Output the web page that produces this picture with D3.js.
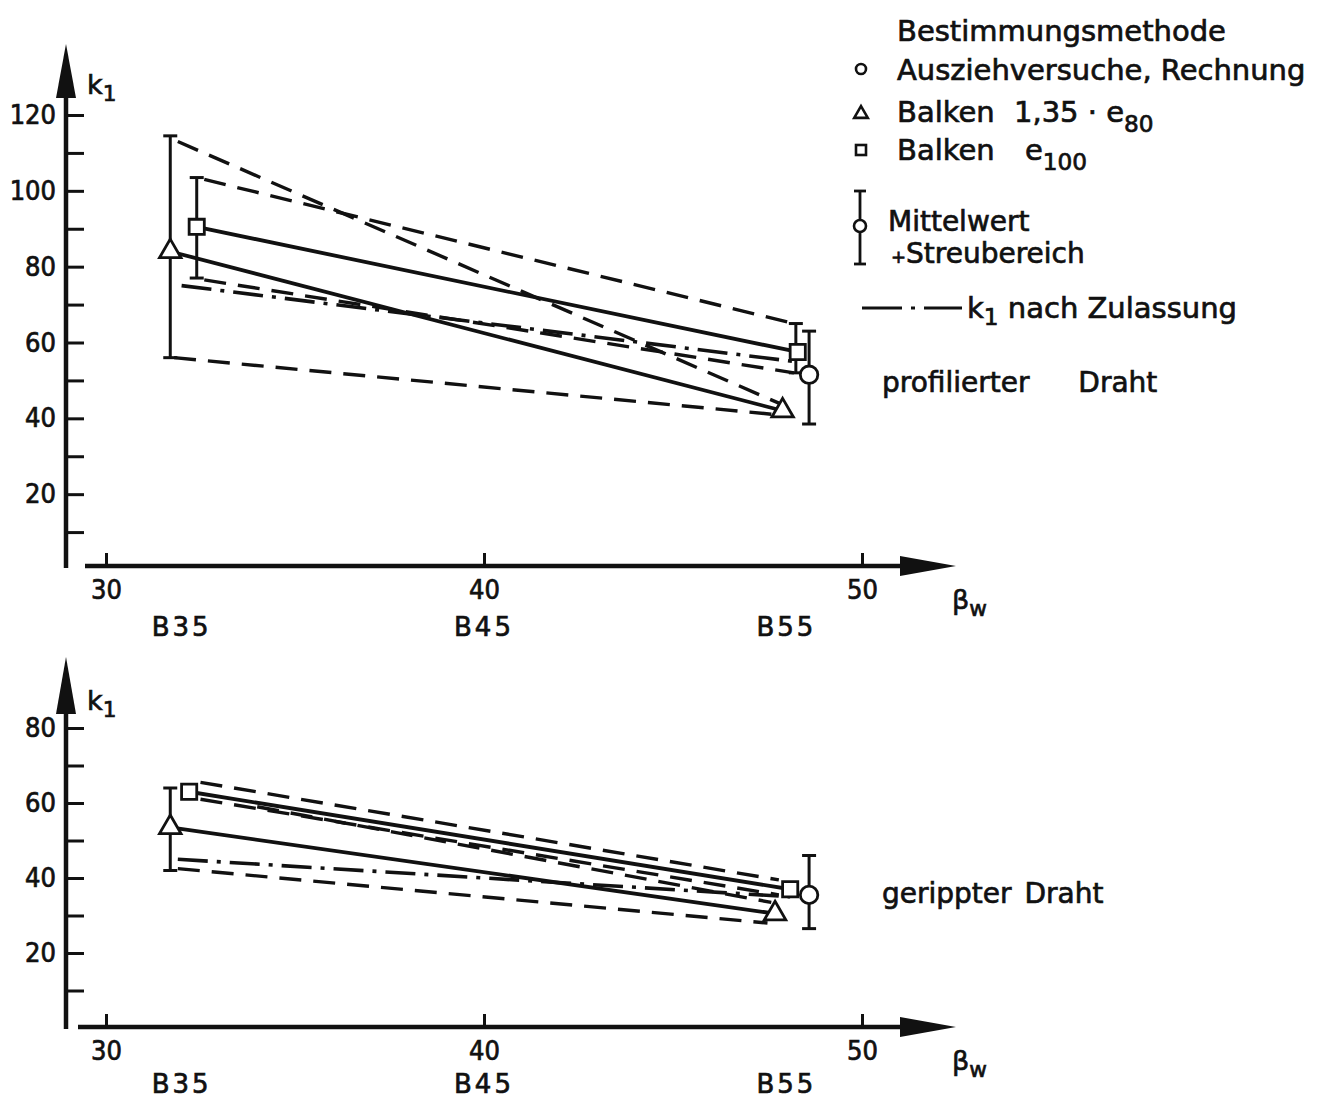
<!DOCTYPE html>
<html>
<head>
<meta charset="utf-8">
<script src="https://cdn.jsdelivr.net/npm/d3@7"></script>
<style>
  html, body { margin: 0; padding: 0; background: #fff; }
  text { font-family: "DejaVu Sans", sans-serif; fill: #111; stroke: #111; stroke-width: 0.7px; }
  .cond { font-family: "DejaVu Sans Condensed", "DejaVu Sans", sans-serif; }
</style>
</head>
<body>
<script>
// ---- values: k1 against concrete strength beta_W -------------------------

// strength grades shown under the beta_W axis
const gradeLabels = ["B35", "B45", "B55"];
const gradeBw = [32, 40, 48];
const xTicks = [30, 40, 50];

// profilierter Draht
const profTriangle = [[31.7, 84], [47.9, 42]];          // Balken 1,35·e80
const profSquare = [[32.4, 90.5], [48.3, 57.5]];        // Balken e100
const profCircle = [[48.6, 51.5]];                      // Ausziehversuche, Rechnung
const profRanges = [[31.7, 56, 114.5], [32.4, 77, 103.5], [48.25, 52, 65], [48.6, 38.5, 63]];
const profDashed = [
  [[31.9, 113], [47.8, 44]],
  [[32.6, 103], [48.2, 65]],
  [[31.8, 56], [47.7, 41]],
  [[32.6, 76.5], [48.2, 52]]
];
const profZulassung = [[32.0, 75], [48.2, 55]];

// gerippter Draht
const ripTriangle = [[31.7, 53.5], [47.7, 30.5]];
const ripSquare = [[32.2, 63], [48.1, 37]];
const ripCircle = [[48.6, 35.5]];
const ripRanges = [[31.7, 42, 64], [48.6, 26.5, 46]];
const ripDashed = [
  [[32.5, 65.5], [47.8, 39.5]],
  [[32.5, 61], [47.8, 35.5]],
  [[34.0, 59], [47.6, 33.5]],
  [[31.9, 42.5], [47.5, 28]]
];
const ripZulassung = [[31.9, 45], [48.1, 35]];

// ---- drawing ---------------------------------------------------------------
const W = 1325, H = 1098;
const svg = d3.select("body").append("svg")
  .attr("width", W).attr("height", H)
  .style("display", "block");
svg.append("rect").attr("width", W).attr("height", H).attr("fill", "#fff");

const INK = "#111";
const DASH = "22 12";
const DASHDOT = "30 9 4 9";

function subText(g, x, y, parts, size) {
  const t = g.append("text").attr("x", x).attr("y", y).style("font-size", size + "px");
  parts.forEach(p => {
    const s = t.append("tspan").text(p.t);
    if (p.sub) s.attr("dy", p.dy || 8).style("font-size", (size * 0.8) + "px");
    else if (p.back) s.attr("dy", -p.back);
  });
  return t;
}

function panel(opt) {
  const g = svg.append("g");
  const x = d3.scaleLinear().domain([30, 50]).range([106, 862]);
  const y = d3.scaleLinear().domain([0, opt.yMax]).range([opt.y0, opt.yTop]);
  const axisX = 66;

  // vertical axis with arrow
  g.append("line").attr("x1", axisX).attr("x2", axisX)
    .attr("y1", opt.xAxisY + 2).attr("y2", opt.arrowBase)
    .attr("stroke", INK).attr("stroke-width", 4.5);
  g.append("path")
    .attr("d", `M${axisX - 10},${opt.arrowBase + 2} L${axisX},${opt.arrowTip} L${axisX + 10},${opt.arrowBase + 2} Z`)
    .attr("fill", INK);

  const yAxis = d3.axisLeft(y)
    .tickValues(d3.range(10, opt.yMax + 1, 10))
    .tickSizeInner(-18).tickSizeOuter(0).tickPadding(10)
    .tickFormat(d => d % 20 === 0 ? d : "");
  const ya = g.append("g").attr("transform", `translate(${axisX},0)`).call(yAxis);
  ya.select(".domain").remove();
  ya.selectAll(".tick line").attr("stroke", INK).attr("stroke-width", 3);
  ya.selectAll(".tick text").attr("fill", INK).attr("class", "cond")
    .style("font-size", "27px");

  subText(g, 87, opt.arrowBase - 2, [{t: "k"}, {t: "1", sub: true, dy: 7}], 27);

  // horizontal axis with arrow
  g.append("line").attr("x1", opt.xAxisStart).attr("x2", 902)
    .attr("y1", opt.xAxisY).attr("y2", opt.xAxisY)
    .attr("stroke", INK).attr("stroke-width", 4.5);
  g.append("path")
    .attr("d", `M900,${opt.xAxisY - 10} L956,${opt.xAxisY} L900,${opt.xAxisY + 10} Z`)
    .attr("fill", INK);

  const xAxis = d3.axisBottom(x).tickValues(xTicks)
    .tickSizeInner(-13).tickSizeOuter(0).tickPadding(14).tickFormat(d3.format("d"));
  const xa = g.append("g").attr("transform", `translate(0,${opt.xAxisY})`).call(xAxis);
  xa.select(".domain").remove();
  xa.selectAll(".tick line").attr("stroke", INK).attr("stroke-width", 3);
  xa.selectAll(".tick text").attr("fill", INK).attr("class", "cond")
    .style("font-size", "27px");

  subText(g, 952, opt.xAxisY + 43, [{t: "β"}, {t: "w", sub: true, dy: 7}], 27);

  g.selectAll(".grade").data(gradeLabels).join("text")
    .attr("class", "grade")
    .attr("x", (d, i) => x(gradeBw[i]))
    .attr("y", opt.gradeY)
    .attr("text-anchor", "middle")
    .style("font-size", "26px").style("letter-spacing", "3px")
    .text(d => d);

  const line = d3.line().x(d => x(d[0])).y(d => y(d[1]));

  // dashed scatter bounds
  g.selectAll(".dashed").data(opt.dashed).join("path")
    .attr("class", "dashed").attr("d", line)
    .attr("fill", "none").attr("stroke", INK).attr("stroke-width", 3.4)
    .attr("stroke-dasharray", DASH);

  // k1 nach Zulassung
  g.append("path").datum(opt.zul).attr("d", line)
    .attr("fill", "none").attr("stroke", INK).attr("stroke-width", 3.6)
    .attr("stroke-dasharray", DASHDOT);

  // mean lines
  [opt.tri, opt.sq].forEach(s => {
    g.append("path").datum(s).attr("d", line)
      .attr("fill", "none").attr("stroke", INK).attr("stroke-width", 3.8);
  });

  // scatter ranges
  const eb = g.selectAll(".range").data(opt.ranges).join("g").attr("class", "range");
  eb.append("line")
    .attr("x1", d => x(d[0])).attr("x2", d => x(d[0]))
    .attr("y1", d => y(d[1])).attr("y2", d => y(d[2]))
    .attr("stroke", INK).attr("stroke-width", 3);
  eb.append("line")
    .attr("x1", d => x(d[0]) - 7).attr("x2", d => x(d[0]) + 7)
    .attr("y1", d => y(d[2])).attr("y2", d => y(d[2]))
    .attr("stroke", INK).attr("stroke-width", 3);
  eb.append("line")
    .attr("x1", d => x(d[0]) - 7).attr("x2", d => x(d[0]) + 7)
    .attr("y1", d => y(d[1])).attr("y2", d => y(d[1]))
    .attr("stroke", INK).attr("stroke-width", 3);

  // markers
  const mark = (data, type, size) => g.selectAll(null).data(data).join("path")
    .attr("transform", d => `translate(${x(d[0])},${y(d[1])})`)
    .attr("d", d3.symbol().type(type).size(size))
    .attr("fill", "#fff").attr("stroke", INK).attr("stroke-width", 2.8);
  mark(opt.tri, d3.symbolTriangle, 200);
  mark(opt.sq, d3.symbolSquare, 230);
  mark(opt.circ, d3.symbolCircle, 240);

  g.append("text").attr("x", 882).attr("y", opt.nameY)
    .style("font-size", "28px").style("word-spacing", opt.nameGap + "px")
    .text(opt.name);
}

panel({
  yMax: 120, y0: 570, yTop: 115, xAxisY: 566, xAxisStart: 85,
  arrowTip: 44, arrowBase: 96, gradeY: 636,
  tri: profTriangle, sq: profSquare, circ: profCircle,
  ranges: profRanges, dashed: profDashed, zul: profZulassung,
  name: "profilierter Draht", nameY: 392, nameGap: 40
});

panel({
  yMax: 80, y0: 1028, yTop: 728, xAxisY: 1027, xAxisStart: 78,
  arrowTip: 657, arrowBase: 712, gradeY: 1093,
  tri: ripTriangle, sq: ripSquare, circ: ripCircle,
  ranges: ripRanges, dashed: ripDashed, zul: ripZulassung,
  name: "gerippter Draht", nameY: 903, nameGap: 4
});

// ---- legend ----------------------------------------------------------------
const lg = svg.append("g");
const LS = 29;
lg.append("text").attr("x", 897).attr("y", 41).style("font-size", LS + "px").text("Bestimmungsmethode");

lg.append("circle").attr("cx", 861).attr("cy", 69).attr("r", 5)
  .attr("fill", "#fff").attr("stroke", INK).attr("stroke-width", 2.6);
lg.append("text").attr("x", 897).attr("y", 80).style("font-size", LS + "px").text("Ausziehversuche, Rechnung");

lg.append("path").attr("transform", "translate(861,114)")
  .attr("d", d3.symbol().type(d3.symbolTriangle).size(80))
  .attr("fill", "#fff").attr("stroke", INK).attr("stroke-width", 2.6);
lg.append("text").attr("x", 897).attr("y", 122).style("font-size", LS + "px").text("Balken");
subText(lg, 1014, 122, [{t: "1,35 · e"}, {t: "80", sub: true, dy: 10}], LS);

lg.append("rect").attr("x", 856).attr("y", 145).attr("width", 10).attr("height", 10)
  .attr("fill", "#fff").attr("stroke", INK).attr("stroke-width", 2.6);
lg.append("text").attr("x", 897).attr("y", 160).style("font-size", LS + "px").text("Balken");
subText(lg, 1025, 160, [{t: "e"}, {t: "100", sub: true, dy: 10}], LS);

// range symbol
lg.append("line").attr("x1", 860).attr("x2", 860).attr("y1", 191).attr("y2", 264)
  .attr("stroke", INK).attr("stroke-width", 2.8);
lg.append("line").attr("x1", 854).attr("x2", 866).attr("y1", 191).attr("y2", 191)
  .attr("stroke", INK).attr("stroke-width", 2.8);
lg.append("line").attr("x1", 854).attr("x2", 866).attr("y1", 264).attr("y2", 264)
  .attr("stroke", INK).attr("stroke-width", 2.8);
lg.append("circle").attr("cx", 860).attr("cy", 226).attr("r", 6)
  .attr("fill", "#fff").attr("stroke", INK).attr("stroke-width", 2.6);
lg.append("text").attr("x", 888).attr("y", 231).style("font-size", "28px").text("Mittelwert");
const sb = lg.append("text").attr("x", 891).attr("y", 263).style("font-size", "28px");
sb.append("tspan").style("font-size", "18px").text("+");
sb.append("tspan").text("Streubereich");

// dash-dot symbol
lg.append("line").attr("x1", 862).attr("x2", 962).attr("y1", 308).attr("y2", 308)
  .attr("stroke", INK).attr("stroke-width", 3.2).attr("stroke-dasharray", "40 9 4 9 40");
subText(lg, 967, 318, [{t: "k"}, {t: "1", sub: true, dy: 7}, {t: " nach Zulassung", back: 7}], LS);
</script>
</body>
</html>
